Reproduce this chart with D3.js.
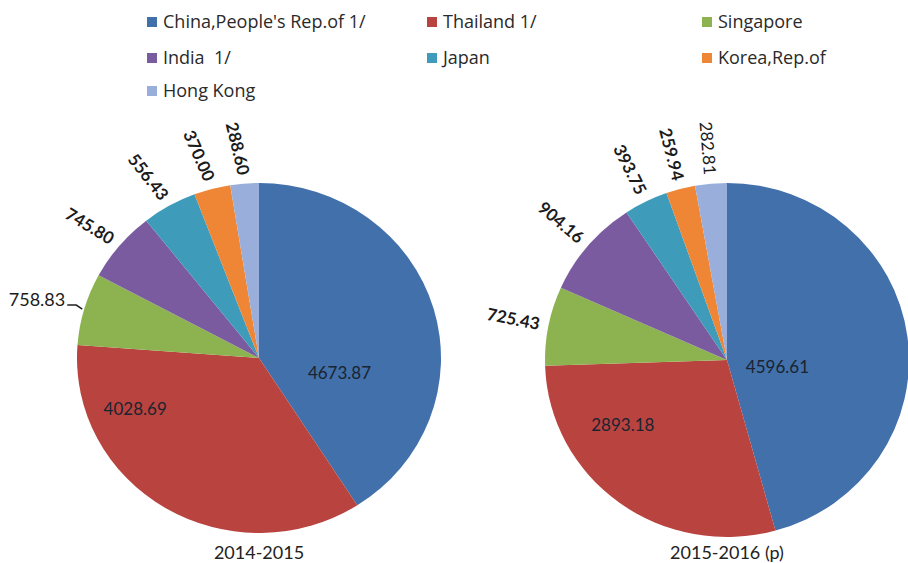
<!DOCTYPE html>
<html>
<head>
<meta charset="utf-8">
<script src="https://cdn.jsdelivr.net/npm/d3@7"></script>
<style>
  html, body { margin: 0; padding: 0; background: #ffffff; }
  svg { display: block; }
  text { font-family: Lato, "Open Sans", sans-serif; }
</style>
</head>
<body>
<svg id="chart" width="908" height="563"></svg>
<script>
// ---- data ----
const categories = ["China,People's Rep.of 1/", "Thailand 1/", "Singapore", "India  1/", "Japan", "Korea,Rep.of", "Hong Kong"];
const values2014 = [4673.87, 4028.69, 758.83, 745.80, 556.43, 370.00, 288.60];
const values2015 = [4596.61, 2893.18, 725.43, 904.16, 393.75, 259.94, 282.81];
const pieTitles = ["2014-2015", "2015-2016 (p)"];
const sliceColors = ["#4170AA", "#B8433F", "#8DB350", "#7B5B9F", "#3E9BBA", "#EE8636", "#99AEDA"];

// ---- layout ----
const svg = d3.select("#chart");
const fmt = d3.format(".2f");
const DEG = Math.PI / 180;

const pies = [
  { values: values2014, title: pieTitles[0], cx: 259, cy: 358, rx: 182, ry: 175, rotAdj: -9 },
  { values: values2015, title: pieTitles[1], cx: 727, cy: 360, rx: 182, ry: 177, rotAdj: 0 }
];

// legend
const legendCols = [147, 427, 702];
const legendRows = [22, 58, 91];
const legend = svg.append("g");
categories.forEach((c, i) => {
  const col = i % 3, row = Math.floor(i / 3);
  const g = legend.append("g").attr("transform", `translate(${legendCols[col]},${legendRows[row]})`);
  g.append("rect").attr("x", 0).attr("y", -5).attr("width", 10).attr("height", 10).attr("fill", sliceColors[i]);
  g.append("text").attr("x", 16).attr("y", 0).attr("dy", "0.35em")
    .style("font-family", "'Open Sans', sans-serif")
    .attr("font-size", 18).attr("fill", "#2a2a2a").style("white-space", "pre").text(c);
});

const pieGen = d3.pie().sort(null).value(d => d).startAngle(0).endAngle(2 * Math.PI);

// inside label placement tweaks (angle shift, radius fraction)
const insidePlace = [
  [{ shift: 27 * DEG, f: 0.45 }, { shift: 36 * DEG, f: 0.74 }],
  [{ shift: 16 * DEG, f: 0.28 }, { shift: 21 * DEG, f: 0.68 }]
];

pies.forEach((p, pi) => {
  const arcs = pieGen(p.values);
  const arc = d3.arc().innerRadius(0).outerRadius(p.ry);
  const g = svg.append("g").attr("transform", `translate(${p.cx},${p.cy}) scale(${p.rx / p.ry},1)`);
  g.selectAll("path").data(arcs).enter().append("path")
    .attr("d", arc)
    .attr("fill", (d, i) => sliceColors[i]);

  const lg = svg.append("g");
  arcs.forEach((d, i) => {
    const mid = (d.startAngle + d.endAngle) / 2;
    if (i < 2) {
      const pl = insidePlace[pi][i];
      const a = mid + pl.shift;
      const x = p.cx + pl.f * p.rx * Math.sin(a);
      const y = p.cy - pl.f * p.ry * Math.cos(a);
      lg.append("text").attr("x", x).attr("y", y).attr("dy", "0.35em")
        .attr("text-anchor", "middle").attr("font-size", 17).attr("fill", "#1b2330")
        .text(fmt(d.value));
    } else if (pi === 0 && i === 2) {
      // horizontal label with leader line
      const ex = p.cx + p.rx * Math.sin(mid);
      const ey = p.cy - p.ry * Math.cos(mid);
      lg.append("path")
        .attr("d", `M${ex - 17},${ey - 4} L${ex - 8},${ey - 4} L${ex - 2},${ey}`)
        .attr("fill", "none").attr("stroke", "#222").attr("stroke-width", 1.6);
      lg.append("text").attr("x", ex - 19).attr("y", ey - 9).attr("dy", "0.35em")
        .attr("text-anchor", "end").attr("font-size", 18).attr("fill", "#1b1b1b")
        .text(fmt(d.value));
    } else {
      const gap = 9;
      const x = p.cx + (p.rx + gap) * Math.sin(mid);
      const y = p.cy - (p.ry + gap) * Math.cos(mid);
      const rot = Math.atan2(Math.cos(mid), -Math.sin(mid)) / DEG + p.rotAdj;
      lg.append("text")
        .attr("transform", `translate(${x},${y}) rotate(${rot})`)
        .attr("text-anchor", "end").attr("dy", "0.35em")
        .attr("font-size", 17).attr("font-weight", (pi === 1 && i === 6) ? 400 : 700)
        .attr("fill", "#1b1b1b")
        .text(fmt(d.value));
    }
  });

  svg.append("text").attr("x", p.cx).attr("y", 553).attr("dy", "0.35em")
    .attr("text-anchor", "middle").attr("font-size", 18).attr("fill", "#222")
    .text(p.title);
});
</script>
</body>
</html>
